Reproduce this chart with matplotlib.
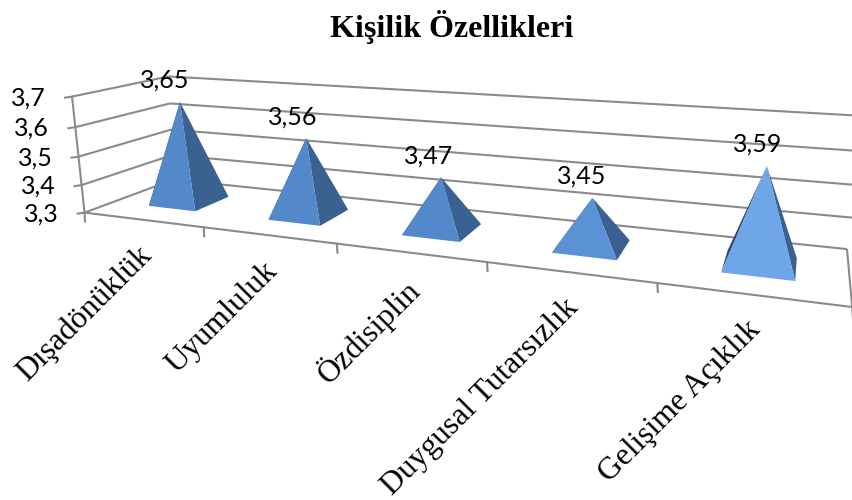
import numpy as np
import matplotlib
matplotlib.use("Agg")
import matplotlib.pyplot as plt
from matplotlib.patches import Polygon

categories = ["Dışadönüklük", "Uyumluluk", "Özdisiplin", "Duygusal Tutarsızlık", "Gelişime Açıklık"]
values = [3.65, 3.56, 3.47, 3.45, 3.59]
value_labels = ["3,65", "3,56", "3,47", "3,45", "3,59"]
y_ticks = [3.3, 3.4, 3.5, 3.6, 3.7]
y_tick_labels = ["3,3", "3,4", "3,5", "3,6", "3,7"]
title = "Kişilik Özellikleri"

YMIN, YMAX = 3.3, 3.7
GRID = "#8a8a8a"

# camera calibration: chart-box coordinates (u, v, w) -> figure pixels
calib = [
    ((0, 0, 0), (85, 213)), ((0, 0, .25), (82, 184)), ((0, 0, .5), (78, 155.5)),
    ((0, 0, .75), (75, 126)), ((0, 0, 1), (72, 97)),
    ((.2, 0, 0), (204, 228)), ((.4, 0, 0), (337, 245)), ((.6, 0, 0), (487, 263)),
    ((.8, 0, 0), (657, 283)), ((1, 0, 0), (852, 307)),
    ((0, 1, 0), (172.6, 179.5)), ((0, 1, 1), (167, 78)), ((0, 1, .75), (172, 103)),
    ((1, 1, 0), (847, 248)), ((1, 1, 1), (897, 118.5)), ((1, 1, .75), (885, 152)),
]
A, b = [], []
for (u, v, w), (px, py) in calib:
    A.append([u, v, w, 1, 0, 0, 0, 0, -px * u, -px * v, -px * w])
    b.append(px)
    A.append([0, 0, 0, 0, u, v, w, 1, -py * u, -py * v, -py * w])
    b.append(py)
P = np.append(np.linalg.lstsq(np.array(A, float), np.array(b, float), rcond=None)[0], 1).reshape(3, 4)


def proj(u, v, w):
    h = P @ np.array([u, v, w, 1.0])
    return h[:2] / h[2]


def wval(val):
    return (val - YMIN) / (YMAX - YMIN)


fig = plt.figure(figsize=(8.52, 5.0), dpi=100)
ax = fig.add_axes([0, 0, 1, 1])
ax.set_xlim(0, 852)
ax.set_ylim(500, 0)
ax.axis("off")


def seg(p, q, **kw):
    a, b_ = proj(*p), proj(*q)
    ax.plot([a[0], b_[0]], [a[1], b_[1]], color=GRID, lw=1.5, solid_capstyle="butt", **kw)


for t, lab in zip(y_ticks, y_tick_labels):
    w = wval(t)
    seg((0, 0, w), (0, 1, w))
    seg((0, 1, w), (1, 1, w))
    a = proj(0, 0, w)
    ax.plot([a[0] - 7, a[0]], [a[1] + 1, a[1]], color=GRID, lw=1.5)
    ax.text(a[0] - 26, a[1] + 1, lab, ha="right", va="center", fontsize=18,
            family="Lato", color="black")
seg((0, 0, 0), (0, 0, 1))
seg((0, 0, 0), (1, 0, 0))
seg((1, 0, 0), (1, 1, 0))
n = len(categories)
for i in range(n + 1):
    a = proj(i / n, 0, 0)
    ax.plot([a[0], a[0] + .5], [a[1], a[1] + 9], color=GRID, lw=1.5)

HALF_U, V0, V1 = 0.04, 0.30, 0.71
APEX_NUDGE = [-3, -3, -5, -7, -23]
FRONT = ["#5389cb", "#5389cb", "#5389cb", "#5b92d6", "#6fa6e8"]
for i, (val, lab, cat) in enumerate(zip(values, value_labels, categories)):
    uc = (i + .5) / n + 0.003
    du = HALF_U
    fl, fr = proj(uc - du, V0, 0), proj(uc + du, V0, 0)
    br, bl = proj(uc + du, V1, 0), proj(uc - du, V1, 0)
    apex = proj(uc, .5, wval(val)) + np.array([APEX_NUDGE[i] - 2, -2.5])
    ax.add_patch(Polygon([bl, fl, apex], fc="#2c4a70", ec="none", zorder=3))
    ax.add_patch(Polygon([fr, br, apex], fc="#3a6190", ec="none", zorder=3))
    ax.add_patch(Polygon([fl, fr, apex], fc=FRONT[i], ec="none", zorder=4))
    ax.annotate(lab, apex, xytext=(-15 + 1.5 * i, 21.5), textcoords="offset pixels", ha="center", va="center",
                fontsize=18, family="Lato", color="black", zorder=6)
    mid = proj((i + .5) / n, 0, 0)
    ax.text(mid[0] - 6, mid[1] + 21, cat, rotation=45, rotation_mode="anchor", ha="right", va="top",
            fontsize=22.8, family="Liberation Serif", color="black")

ax.text(452, 27, title, ha="center", va="center", fontsize=23, fontweight="bold",
        family="Liberation Serif", color="black")
fig.savefig("out.png", dpi=100)
